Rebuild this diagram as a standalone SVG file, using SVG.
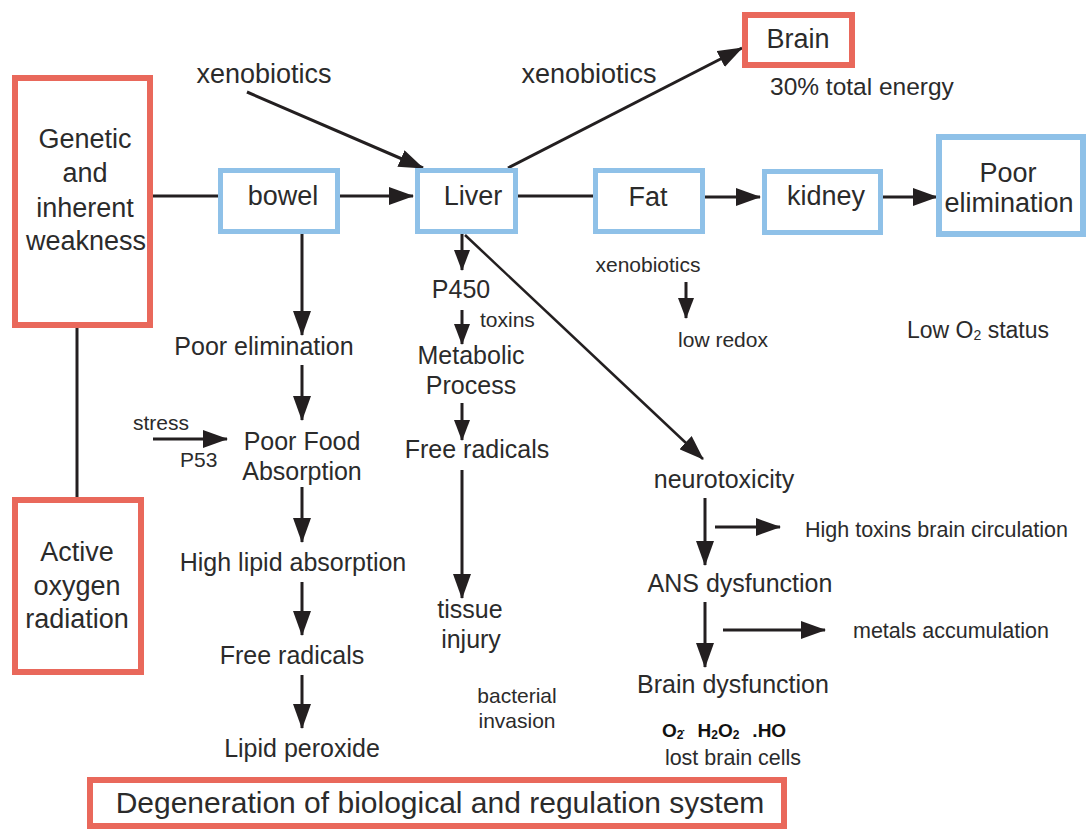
<svg xmlns="http://www.w3.org/2000/svg" width="1088" height="829" viewBox="0 0 1088 829">
<defs>
<style>
text{font-family:"Liberation Sans",Arial,sans-serif;fill:#2b2b2b}
.red{fill:none;stroke:#e9685b;stroke-width:6}
.blue{fill:none;stroke:#8fc1e8;stroke-width:5}
.nl{font-size:27px;text-anchor:middle}
.fl{font-size:25px;text-anchor:middle}
.sl{font-size:21px}
.c{text-anchor:middle}
.ln{stroke:#231f20;stroke-width:3;fill:none}
.ln2{stroke:#231f20;stroke-width:2.5;fill:none}
.a{marker-end:url(#ah)}
.as{marker-end:url(#ahs)}
.chem{font-size:19px;font-weight:bold;fill:#111}
.sub{font-size:12px}
</style>
<marker id="ah" markerUnits="userSpaceOnUse" markerWidth="26" markerHeight="18" refX="24" refY="9" orient="auto">
<path d="M0,0 L25,9 L0,18 Z" fill="#231f20"/>
</marker>
<marker id="ahs" markerUnits="userSpaceOnUse" markerWidth="22" markerHeight="16" refX="20" refY="8" orient="auto">
<path d="M0,0 L21,8 L0,16 Z" fill="#231f20"/>
</marker>
</defs>
<rect width="1088" height="829" fill="#ffffff"/>

<g id="connectors">
<line class="ln" x1="153" y1="196" x2="218" y2="196"/>
<line class="ln a" x1="340" y1="196" x2="413" y2="196"/>
<line class="ln a" x1="247" y1="92" x2="423" y2="168"/>
<line class="ln a" x1="508" y1="168" x2="742" y2="48"/>
<line class="ln" x1="518" y1="196" x2="593" y2="196"/>
<line class="ln a" x1="705" y1="197" x2="760" y2="197"/>
<line class="ln a" x1="883" y1="197" x2="937" y2="197"/>
<line class="ln" x1="77" y1="328" x2="77" y2="497"/>
<line class="ln a" x1="302" y1="234" x2="302" y2="335"/>
<line class="ln a" x1="302" y1="365" x2="302" y2="420"/>
<line class="ln a" x1="153" y1="439" x2="227" y2="439"/>
<line class="ln a" x1="302" y1="487" x2="302" y2="542"/>
<line class="ln a" x1="302" y1="582" x2="302" y2="635"/>
<line class="ln a" x1="302" y1="675" x2="302" y2="728"/>
<line class="ln as" x1="462" y1="234" x2="462" y2="270"/>
<line class="ln as" x1="462" y1="310" x2="462" y2="344"/>
<line class="ln as" x1="462" y1="403" x2="462" y2="440"/>
<line class="ln a" x1="462" y1="470" x2="462" y2="598"/>
<line class="ln2 a" x1="465" y1="235" x2="703" y2="459"/>
<line class="ln as" x1="686" y1="282" x2="686" y2="318"/>
<line class="ln a" x1="705" y1="498" x2="705" y2="565"/>
<line class="ln a" x1="715" y1="527" x2="780" y2="527"/>
<line class="ln a" x1="705" y1="602" x2="705" y2="667"/>
<line class="ln a" x1="723" y1="630" x2="825" y2="630"/>
</g>

<g id="genetic">
<rect class="red" x="15" y="78" width="135" height="247"/>
<text class="nl" x="85" y="148">Genetic</text>
<text class="nl" x="85" y="182">and</text>
<text class="nl" x="85" y="217">inherent</text>
<text class="nl" x="86" y="250">weakness</text>
</g>
<g id="active">
<rect class="red" x="15" y="500" width="126" height="172"/>
<text class="nl" x="77" y="561">Active</text>
<text class="nl" x="77" y="595">oxygen</text>
<text class="nl" x="77" y="628">radiation</text>
</g>
<g id="bowel">
<rect class="blue" x="220.5" y="170.5" width="117" height="61"/>
<text class="nl" x="283" y="205">bowel</text>
</g>
<g id="liver">
<rect class="blue" x="417.5" y="170.5" width="98" height="61"/>
<text class="nl" x="473" y="205">Liver</text>
</g>
<g id="fat">
<rect class="blue" x="595.5" y="170.5" width="107" height="61"/>
<text class="nl" x="648" y="206">Fat</text>
</g>
<g id="kidney">
<rect class="blue" x="764.5" y="171.5" width="116" height="61"/>
<text class="nl" x="826" y="205">kidney</text>
</g>
<g id="poor-elimination-box">
<rect class="red" style="stroke:#8fc1e8" x="939" y="137" width="144" height="97"/>
<text class="nl" x="1008" y="182">Poor</text>
<text class="nl" x="1009" y="212">elimination</text>
</g>
<g id="brain">
<rect class="red" x="745" y="15" width="107" height="50"/>
<text class="nl" x="798" y="48">Brain</text>
<text style="font-size:24.5px" x="770" y="95">30% total energy</text>
</g>
<g id="xeno1"><text class="c" style="font-size:27px" x="264" y="83">xenobiotics</text></g>
<g id="xeno2"><text class="c" style="font-size:27px" x="589" y="83">xenobiotics</text></g>

<g id="bowel-chain">
<text class="fl" x="264" y="355">Poor elimination</text>
<text class="sl" x="133" y="430">stress</text>
<text class="sl" x="180" y="467">P53</text>
<text class="fl" x="302" y="450">Poor Food</text>
<text class="fl" x="302" y="480">Absorption</text>
<text class="fl" x="293" y="571">High lipid absorption</text>
<text class="fl" x="292" y="664">Free radicals</text>
<text class="fl" x="302" y="757">Lipid peroxide</text>
</g>
<g id="liver-chain">
<text class="fl" x="461" y="298">P450</text>
<text class="sl" x="480" y="327">toxins</text>
<text class="fl" x="471" y="364">Metabolic</text>
<text class="fl" x="471" y="394">Process</text>
<text class="fl" x="477" y="458">Free radicals</text>
<text class="fl" x="470" y="618">tissue</text>
<text class="fl" x="471" y="648">injury</text>
<text class="sl c" x="517" y="703">bacterial</text>
<text class="sl c" x="517" y="728">invasion</text>
</g>
<g id="fat-chain">
<text class="sl c" x="648" y="272">xenobiotics</text>
<text class="sl c" x="723" y="347">low redox</text>
<text style="font-size:23px" x="907" y="338">Low O<tspan style="font-size:14px" dy="2">2</tspan><tspan dy="-2"> status</tspan></text>
</g>
<g id="brain-chain">
<text class="fl" x="724" y="488">neurotoxicity</text>
<text style="font-size:21.5px" x="805" y="537">High toxins brain circulation</text>
<text class="fl" x="740" y="592">ANS dysfunction</text>
<text style="font-size:21.5px" x="853" y="638">metals accumulation</text>
<text class="fl" x="733" y="693">Brain dysfunction</text>
<text class="chem" x="662" y="737">O<tspan class="sub" dy="2">2&#775;</tspan><tspan dx="14" dy="-2">H</tspan><tspan class="sub" dy="2">2</tspan><tspan dy="-2">O</tspan><tspan class="sub" dy="2">2</tspan><tspan dx="13" dy="-2">.HO</tspan></text>
<text style="font-size:21.5px" class="c" x="733" y="765">lost brain cells</text>
</g>
<g id="degeneration">
<rect class="red" x="90" y="780" width="694" height="46"/>
<text style="font-size:30px" class="c" x="440" y="813">Degeneration of biological and regulation system</text>
</g>
</svg>
